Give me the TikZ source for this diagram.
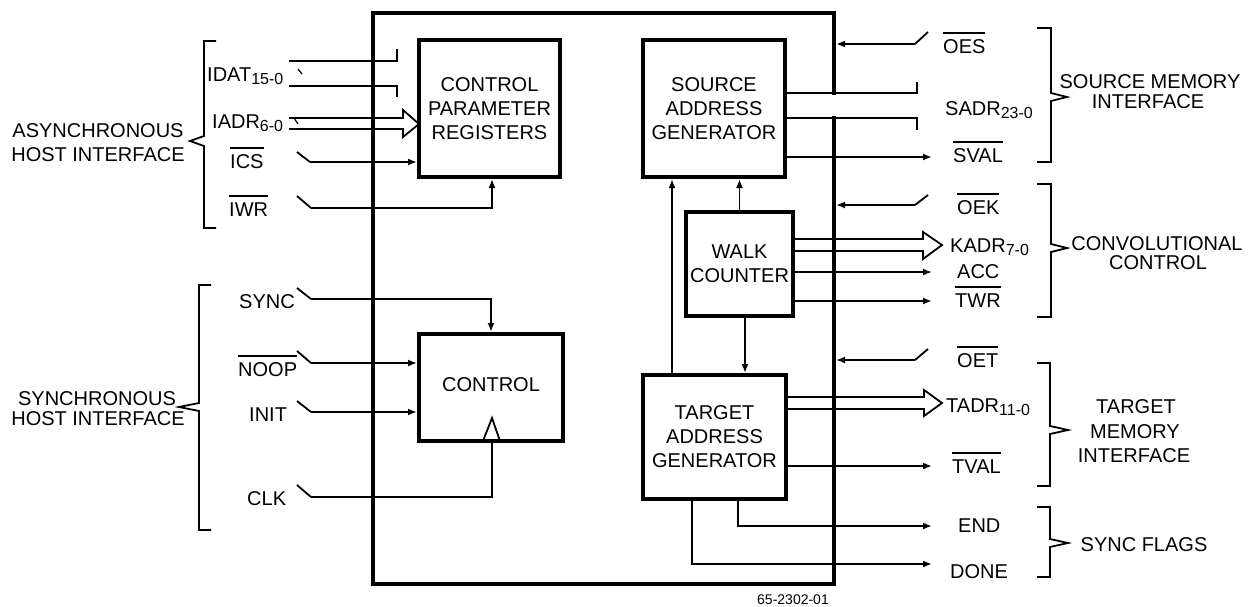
\documentclass[tikz,border=0pt]{standalone}
\usepackage{fontspec}
\setmainfont{Liberation Sans}
\usetikzlibrary{arrows.meta}
\newcommand{\ovl}[1]{\vbox{\hrule height 1.5pt\kern 5.5pt\hbox{#1}}}
\newcommand{\lowsc}[1]{\raisebox{-3pt}{\fontsize{16}{16}\selectfont #1}}
\begin{document}
\begin{tikzpicture}[x=1pt,y=-1pt,line join=miter,
  every node/.style={font=\fontsize{20}{24}\selectfont},
  blk/.style={draw,line width=4pt,align=center,inner sep=0pt},
  sig/.style={line width=1.8pt},
  arr/.style={-{Latex[length=9pt,width=7pt]}},
  lbl/.style={inner sep=0pt,anchor=base west},
  grp/.style={inner sep=0pt,anchor=base},
  brk/.style={line width=1.8pt}]
\useasboundingbox (0,0) rectangle (1252,606);

% chip and blocks
\node[blk,minimum width=461,minimum height=571] (chip) at (603.5,298.5) {};
\node[blk,minimum width=141,minimum height=137] (cpr) at (489.5,108.5) {CONTROL\\PARAMETER\\REGISTERS};
\node[blk,minimum width=142,minimum height=137] (sag) at (714,108.5) {SOURCE\\ADDRESS\\GENERATOR};
\node[blk,minimum width=107,minimum height=104] (wc) at (739.5,264) {WALK\\COUNTER};
\node[blk,minimum width=144,minimum height=107] (ctrl) at (491,387.5) {};
\node[inner sep=0pt,anchor=base] (ctrlT) at (491,391) {CONTROL};
\node[blk,minimum width=143,minimum height=124] (tag) at (714.5,437) {TARGET\\ADDRESS\\GENERATOR};

% clock triangle
\coordinate (clkin) at (492,441);
\draw[sig] (483,441) -- (492,418) -- (500,441);

% SADR bus gap in chip border
\fill[white] (787,95) rectangle (915,116);

% ---- left labels
\node[lbl] (idatL) at (207,81) {IDAT\lowsc{15-0}};
\node[lbl] (iadrL) at (212,128) {IADR\lowsc{6-0}};
\node[lbl] (icsL) at (230,168) {\ovl{ICS}};
\node[lbl] (iwrL) at (229,216) {\ovl{IWR}};
\node[lbl] (syncL) at (239,308) {SYNC};
\node[lbl] (noopL) at (238,376) {\ovl{NOOP}};
\node[lbl] (initL) at (249,421) {INIT};
\node[lbl] (clkL) at (247,505) {CLK};

% IDAT bus (cut)
\draw[sig] (289,61) -- (397,61) -- (397,49);
\draw[sig] (289,86) -- (397,86) -- (397,97);
\draw[line width=1.2pt] (298,69) -- (302,74);
% IADR bus
\coordinate (iadrtip) at (419,124);
\draw[sig] (289,118) -- (403,118) -- (403,110) -- (iadrtip) -- (403,137) -- (403,129) -- (289,129);
\draw[line width=1.2pt] (294,118) -- (298,124);

% switches left
\coordinate (ics) at (310,162);
\draw[sig] (297,152) -- (ics);
\draw[sig,arr] (ics) -- (ics -| cpr.west);
\coordinate (iwr) at (311,208);
\coordinate (iwrx) at (492,0);
\draw[sig] (297,196) -- (iwr);
\draw[sig,arr] (iwr) -| (iwrx |- cpr.south);

\coordinate (sync) at (311,299);
\draw[sig] (297,288) -- (sync);
\draw[sig,arr] (sync) -| (ctrl.north);
\coordinate (noop) at (311,363);
\draw[sig] (297,351) -- (noop);
\draw[sig,arr] (noop) -- (noop -| ctrl.west);
\coordinate (init) at (311,412);
\draw[sig] (297,401) -- (init);
\draw[sig,arr] (init) -- (init -| ctrl.west);
\coordinate (clk) at (311,497);
\draw[sig] (297,485) -- (clk);
\draw[sig] (clk) -| (clkin);

% internal
\coordinate (tx) at (672,0);
\draw[sig,arr] (tx |- tag.north) -- (tx |- sag.south);
\draw[sig,arr] (wc.north) -- (wc.north |- sag.south);
\coordinate (wx) at (745,0);
\draw[sig,arr] (wx |- wc.south) -- (wx |- tag.north);

% ---- right side
\coordinate (oes) at (915,44);
\draw[sig] (oes) -- (928,32);
\draw[sig,arr] (oes) -- (oes -| chip.east);
\draw[sig] (sag.east |- 0,93) -- (917,93) -- (917,82);
\draw[sig] (sag.east |- 0,118) -- (917,118) -- (917,130);
\coordinate (sval) at (932,157);
\draw[sig,arr] (sval -| sag.east) -- (sval);

\coordinate (oek) at (915,205);
\draw[sig] (oek) -- (928,195);
\draw[sig,arr] (oek) -- (oek -| chip.east);
\coordinate (kadrtip) at (942,245);
\draw[sig] (wc.east |- 0,239) -- (923,239) -- (923,232) -- (kadrtip) -- (923,259) -- (923,251) -- (wc.east |- 0,251);
\coordinate (acc) at (932,272);
\draw[sig,arr] (acc -| wc.east) -- (acc);
\coordinate (twr) at (932,301);
\draw[sig,arr] (twr -| wc.east) -- (twr);

\coordinate (oet) at (915,360);
\draw[sig] (oet) -- (928,349);
\draw[sig,arr] (oet) -- (oet -| chip.east);
\coordinate (tadrtip) at (942,403);
\draw[sig] (tag.east |- 0,397) -- (924,397) -- (924,390) -- (tadrtip) -- (924,416) -- (924,409) -- (tag.east |- 0,409);
\coordinate (tval) at (932,466);
\draw[sig,arr] (tval -| tag.east) -- (tval);
\coordinate (endp) at (932,526);
\coordinate (ex) at (738,0);
\draw[sig,arr] (ex |- tag.south) |- (endp);
\coordinate (donep) at (932,564);
\coordinate (dx) at (692,0);
\draw[sig,arr] (dx |- tag.south) |- (donep);

% right labels
\node[lbl] (oesL) at (943,53) {\ovl{OES}};
\node[lbl] (sadrL) at (945,115) {SADR\lowsc{23-0}};
\node[lbl] (svalL) at (953,162) {\ovl{SVAL}};
\node[lbl] (oekL) at (957,214) {\ovl{OEK}};
\node[lbl] (kadrL) at (950,252) {KADR\lowsc{7-0}};
\node[lbl] (accL) at (957,278) {ACC};
\node[lbl] (twrL) at (955,307) {\ovl{TWR}};
\node[lbl] (oetL) at (957,367) {\ovl{OET}};
\node[lbl] (tadrL) at (946,412) {TADR\lowsc{11-0}};
\node[lbl] (tvalL) at (952,473) {\ovl{TVAL}};
\node[lbl] (endL) at (958,532) {END};
\node[lbl] (doneL) at (950,578) {DONE};

% brackets
\draw[brk] (216,41) -- (204,41) -- (204,136) -- (190,141) -- (204,146) -- (204,228) -- (216,228);
\draw[brk] (211,285) -- (199,285) -- (199,403) -- (179,407) -- (199,411) -- (199,530) -- (211,530);
\draw[brk] (1037,28) -- (1051,28) -- (1051,93) -- (1067,97) -- (1051,101) -- (1051,162) -- (1037,162);
\draw[brk] (1037,184) -- (1051,184) -- (1051,244) -- (1067,248) -- (1051,252) -- (1051,317) -- (1037,317);
\draw[brk] (1037,363) -- (1050,363) -- (1050,426) -- (1068,430) -- (1050,434) -- (1050,486) -- (1037,486);
\draw[brk] (1037,507) -- (1050,507) -- (1050,539) -- (1068,543) -- (1050,547) -- (1050,577) -- (1037,577);

% group labels
\node[grp] (g1a) at (98,137) {ASYNCHRONOUS};
\node[grp] (g1b) at (98,161) {HOST INTERFACE};
\node[grp] (g2a) at (97,405) {SYNCHRONOUS};
\node[grp] (g2b) at (98,425) {HOST INTERFACE};
\node[grp] (g3a) at (1150,88) {SOURCE MEMORY};
\node[grp] (g3b) at (1148,108) {INTERFACE};
\node[grp] (g4a) at (1157,250) {CONVOLUTIONAL};
\node[grp] (g4b) at (1158,269) {CONTROL};
\node[grp] (g5a) at (1136,413) {TARGET};
\node[grp] (g5b) at (1135,438) {MEMORY};
\node[grp] (g5c) at (1134,462) {INTERFACE};
\node[grp] (g6) at (1144,551) {SYNC FLAGS};

% figure number
\node[lbl,font=\fontsize{14}{16}\selectfont] (fig) at (757,604) {65-2302-01};
\end{tikzpicture}
\end{document}
